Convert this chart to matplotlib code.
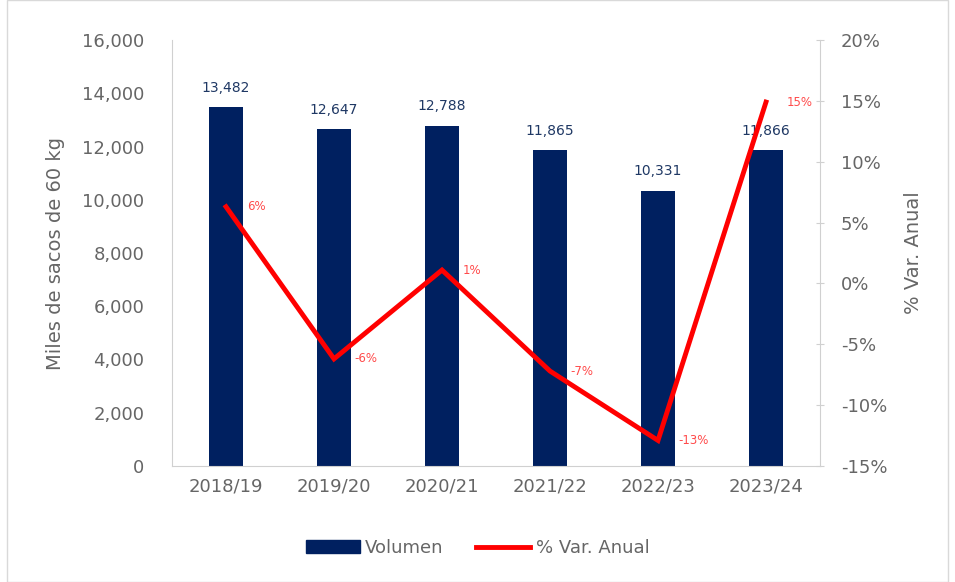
import matplotlib
matplotlib.use("Agg")
import matplotlib.pyplot as plt
from matplotlib.ticker import FuncFormatter, MultipleLocator
from matplotlib.lines import Line2D
from matplotlib.patches import Patch, Rectangle

categories = ["2018/19", "2019/20", "2020/21", "2021/22", "2022/23", "2023/24"]
volumen = [13482, 12647, 12788, 11865, 10331, 11866]
var_anual = [6.3, -6.2, 1.1, -7.2, -12.9, 14.9]

navy = "#002060"
red = "#FF0000"
grey = "#666666"
spine_c = "#D0D0D0"

plt.rcParams['font.family'] = ['DejaVu Sans']

fig = plt.figure(figsize=(9.55, 5.82), dpi=100)
ax = fig.add_axes([172/955, 1-466/582, (820-172)/955, (466-40)/582])
x = list(range(len(categories)))
ax.bar(x, volumen, width=0.31, color=navy, zorder=2)
ax.set_xlim(-0.5, len(categories)-0.5)
ax.set_ylim(0, 16000)
ax.yaxis.set_major_locator(MultipleLocator(2000))
ax.yaxis.set_major_formatter(FuncFormatter(lambda v, p: f"{int(v):,}"))
ax.set_xticks(x)
ax.set_xticklabels(categories)
ax.tick_params(axis='both', length=0, labelsize=13, colors=grey, pad=8)
ax.tick_params(axis='y', pad=20)
for s in ["top", "right"]:
    ax.spines[s].set_visible(False)
ax.spines["left"].set_color(spine_c)
ax.spines["bottom"].set_color(spine_c)
ax.set_ylabel("Miles de sacos de 60 kg", fontsize=14, color=grey, labelpad=12)

for xi, v in zip(x, volumen):
    ax.annotate(f"{v:,}", (xi, v), xytext=(0, 9), textcoords="offset points",
                ha="center", va="bottom", fontsize=10, color="#1F3864")

ax2 = ax.twinx()
ax2.plot(x, var_anual, color=red, lw=3.5, zorder=3, solid_joinstyle="miter")
ax2.set_ylim(-15, 20)
ax2.yaxis.set_major_locator(MultipleLocator(5))
ax2.yaxis.set_major_formatter(FuncFormatter(lambda v, p: f"{int(round(v))}%"))
ax2.tick_params(axis='y', labelsize=13, colors=grey, length=6, direction='inout',
                color=spine_c, pad=12)
for s in ["top", "left", "bottom"]:
    ax2.spines[s].set_visible(False)
ax2.spines["right"].set_color(spine_c)
ax2.set_ylabel("% Var. Anual", fontsize=14, color=grey, labelpad=12)

for xi, v in zip(x, var_anual):
    ax2.annotate(f"{int(round(v))}%", (xi, v), xytext=(15, 0), textcoords="offset points",
                 ha="left", va="center", fontsize=8.5, color="#FF4B4B")

handles = [Patch(facecolor=navy, edgecolor=navy),
           Line2D([0], [0], color=red, lw=3.5)]
fig.legend(handles, ["Volumen", "% Var. Anual"], loc="center", bbox_to_anchor=(0.5, 1-548/582),
           ncol=2, frameon=False, fontsize=13, handlelength=3.0, handletextpad=0.3,
           columnspacing=1.8, labelcolor=grey)

fig.patches.append(Rectangle((7/955, 0), 1-14/955, 1, transform=fig.transFigure,
                             fill=False, edgecolor="#D9D9D9", lw=1))

fig.savefig("out.png", dpi=100)
